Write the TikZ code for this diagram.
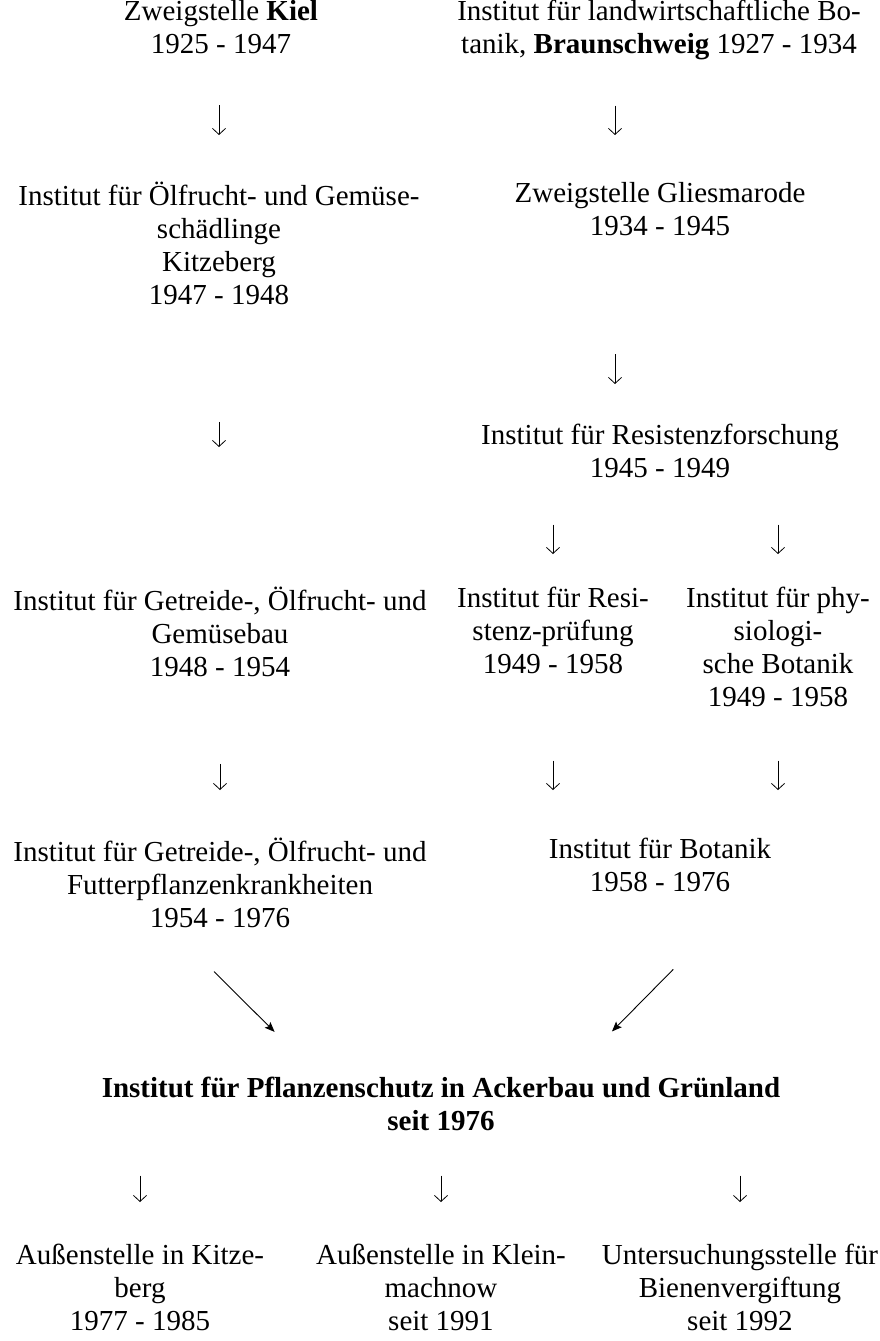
\documentclass[tikz,border=0pt]{standalone}
\usepackage{fontspec}
\setmainfont{Liberation Serif}
\usetikzlibrary{arrows.meta,positioning}
\tikzset{
  txt/.style={align=center,inner sep=0pt,anchor=north,
    execute at begin node=\strut,execute at end node=\strut},
  pfeil/.style={-{Straight Barb[length=6pt,width=13pt]},line width=0.8pt},
  diag/.style={-{Stealth[length=10pt,width=8pt,inset=2pt]},line width=0.9pt},
}

\begin{document}
\begin{tikzpicture}[x=1pt,y=-1pt,font=\fontsize{29}{33}\selectfont]
\useasboundingbox (0,0) rectangle (879,1341);
% Kiel line (left)
\node[txt] (kiel) at (221,0) {Zweigstelle \textbf{Kiel}\\1925 - 1947};
\node[txt] (oel) at (219,182) {Institut für Ölfrucht- und Gemüse-\\schädlinge\\Kitzeberg\\1947 - 1948};
\node[txt] (getreide) at (220,587) {Institut für Getreide-, Ölfrucht- und\\Gemüsebau\\1948 - 1954};
\node[txt] (futter) at (220,838) {Institut für Getreide-, Ölfrucht- und\\Futterpflanzenkrankheiten\\1954 - 1976};
% Braunschweig line (right)
\node[txt] (braun) at (659,0) {Institut für landwirtschaftliche Bo-\\tanik, \textbf{Braunschweig} 1927 - 1934};
\node[txt] (glies) at (660,182) {Zweigstelle Gliesmarode\\1934 - 1945};
\node[txt] (resist) at (660,424) {Institut für Resistenzforschung\\1945 - 1949};
\node[txt] (resi) at (553,587) {Institut für Resi-\\stenz-prüfung\\1949 - 1958};
\node[txt] (phys) at (778,587) {Institut für phy-\\siologi-\\sche Botanik\\1949 - 1958};
\node[txt] (botanik) at (660,838) {Institut für Botanik\\1958 - 1976};
% merged institute
\node[txt,font=\fontsize{29}{33}\selectfont\bfseries] (pflanz) at (441,1077) {Institut für Pflanzenschutz in Ackerbau und Grünland\\seit 1976};
\node[txt] (kitz) at (140,1244) {Außenstelle in Kitze-\\berg\\1977 - 1985};
\node[txt] (klein) at (441,1244) {Außenstelle in Klein-\\machnow\\seit 1991};
\node[txt] (unters) at (740,1244) {Untersuchungsstelle für\\Bienenvergiftung\\seit 1992};

% arrows
\draw[pfeil,shorten <=42pt,shorten >=47pt] (kiel.south -| oel.north) -- (oel.north);
\draw[pfeil,shorten <=42pt,shorten >=47pt] ([xshift=-44pt]braun.south) -- ([xshift=-45pt]glies.north);
\draw[pfeil,shorten <=109pt,shorten >=40pt] ([xshift=-45pt]glies.south) -- ([xshift=-45pt]resist.north);
\draw[pfeil,shorten <=107pt,shorten >=140pt] (oel.south) -- (oel.south |- getreide.north);
\draw[pfeil,shorten <=37pt,shorten >=33pt] (resist.south -| resi.north) -- (resi.north);
\draw[pfeil,shorten <=37pt,shorten >=33pt] (resist.south -| phys.north) -- (phys.north);
\draw[pfeil,shorten <=77pt,shorten >=48pt] (getreide.south) -- (getreide.south |- futter.north);
\draw[pfeil,shorten <=77pt,shorten >=48pt] (resi.south) -- (resi.south |- botanik.north);
\draw[pfeil,shorten <=44pt,shorten >=48pt] (phys.south) -- (phys.south |- botanik.north);
\draw[diag,shorten <=48pt,shorten >=64pt] ([xshift=-40pt]futter.south) -- ([xshift=-121pt]pflanz.north);
\draw[diag,shorten <=95pt,shorten >=64pt] ([xshift=80pt]botanik.south) -- ([xshift=126pt]pflanz.north);
\draw[pfeil,shorten <=35pt,shorten >=42pt] (pflanz.south -| kitz.north) -- (kitz.north);
\draw[pfeil,shorten <=35pt,shorten >=42pt] (pflanz.south) -- (klein.north);
\draw[pfeil,shorten <=35pt,shorten >=42pt] (pflanz.south -| unters.north) -- (unters.north);
\end{tikzpicture}
\end{document}
